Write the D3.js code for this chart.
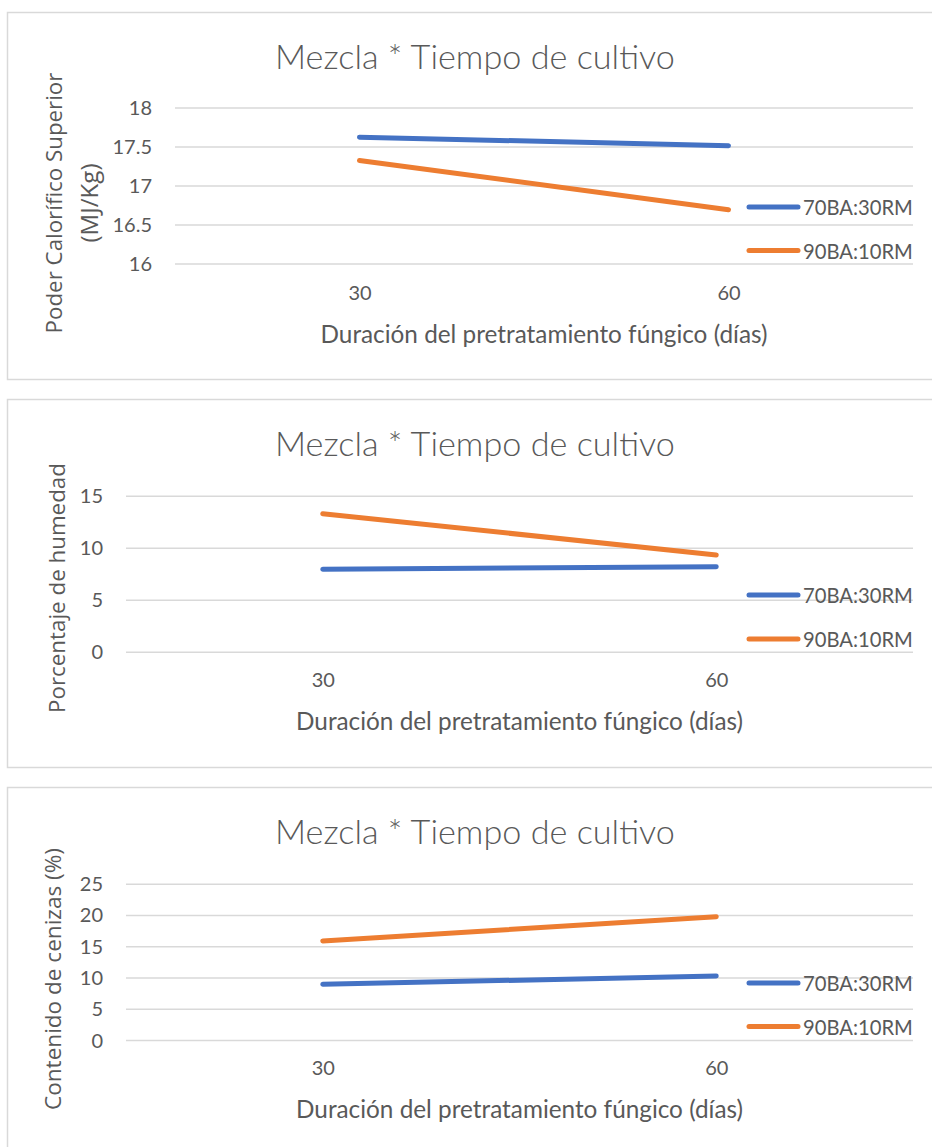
<!DOCTYPE html>
<html>
<head>
<meta charset="utf-8">
<script src="https://cdn.jsdelivr.net/npm/d3@7"></script>
<style>
  html, body { margin: 0; padding: 0; background: #fff; }
  svg { display: block; }
</style>
</head>
<body>
<svg id="chart" width="932" height="1147"></svg>
<script>
// ---------- data ----------
const categories = ["30", "60"];
const seriesNames = ["70BA:30RM", "90BA:10RM"];
const chartTitle = "Mezcla * Tiempo de cultivo";
const xAxisTitle = "Duración del pretratamiento fúngico (días)";

const pcsBlue = [17.62, 17.51];
const pcsOrange = [17.32, 16.69];
const pcsTicks = [16, 16.5, 17, 17.5, 18];
const pcsYTitle = ["Poder Calorífico Superior", "(MJ/Kg)"];

const humBlue = [7.92, 8.17];
const humOrange = [13.27, 9.30];
const humTicks = [0, 5, 10, 15];
const humYTitle = ["Porcentaje de humedad"];

const cenBlue = [8.91, 10.24];
const cenOrange = [15.84, 19.73];
const cenTicks = [0, 5, 10, 15, 20, 25];
const cenYTitle = ["Contenido de cenizas (%)"];

const colors = ["#4472C4", "#ED7D31"];

// ---------- layout ----------
const panels = [
  { top: 12, height: 367, left: 175, yDomain: [16, 18], plotTop: 107.5, plotBottom: 263.5,
    ticks: pcsTicks, series: [pcsBlue, pcsOrange], yTitle: pcsYTitle,
    yTitleX: [53, 88], yTitleY: 203, yTitleW: [261, 79], legendY: [207, 250.5] },
  { top: 399, height: 368, left: 126, yDomain: [0, 15], plotTop: 495.7, plotBottom: 651.7,
    ticks: humTicks, series: [humBlue, humOrange], yTitle: humYTitle,
    yTitleX: [56], yTitleY: 588, yTitleW: [250], legendY: [595, 639] },
  { top: 787, height: 380, left: 126, yDomain: [0, 25], plotTop: 883.7, plotBottom: 1040,
    ticks: cenTicks, series: [cenBlue, cenOrange], yTitle: cenYTitle,
    yTitleX: [52], yTitleY: 979, yTitleW: [262], legendY: [983, 1026.5] }
];
const plotRight = 913;
const textColor = "#595959";
const gridColor = "#d9d9d9";
const calibriLike = "Lato, 'Open Sans', sans-serif";
const yTitleFont = "'Open Sans', 'DejaVu Sans', sans-serif";

const svg = d3.select("#chart");

function fit(sel, target) {
  const node = sel.node();
  const fs = parseFloat(sel.attr("font-size"));
  const w = node.getComputedTextLength();
  if (w > 0) sel.attr("font-size", (fs * target / w).toFixed(2));
  return sel;
}

panels.forEach(p => {
  const g = svg.append("g");

  // border
  g.append("rect")
    .attr("x", 7.5).attr("y", p.top + 0.5)
    .attr("width", 940).attr("height", p.height)
    .attr("fill", "#fff").attr("stroke", gridColor).attr("stroke-width", 1.5);

  const x = d3.scalePoint().domain(categories).range([p.left, plotRight]).padding(0.5);
  const y = d3.scaleLinear().domain(p.yDomain).range([p.plotBottom, p.plotTop]);

  // title
  const t = g.append("text")
    .attr("x", 475).attr("y", p.top + 43)
    .attr("text-anchor", "middle").attr("dominant-baseline", "central")
    .attr("font-family", calibriLike).attr("font-weight", 300)
    .attr("font-size", 30).attr("fill", textColor)
    .text(chartTitle);
  fit(t, 400);

  // gridlines via axis
  const yAxis = d3.axisLeft(y).tickValues(p.ticks).tickSize(-(plotRight - p.left)).tickPadding(23)
    .tickFormat(d => String(d));
  const ya = g.append("g").attr("transform", `translate(${p.left},0)`).call(yAxis);
  ya.select(".domain").remove();
  ya.selectAll(".tick line").attr("stroke", gridColor).attr("stroke-width", 1.5);
  ya.selectAll(".tick text")
    .attr("font-family", calibriLike).attr("font-size", 20).attr("fill", textColor)
    .attr("dy", "0.35em");

  // x axis labels
  const xAxis = d3.axisBottom(x).tickSize(0).tickPadding(0);
  const xa = g.append("g").attr("transform", `translate(0,${p.top + 281})`).call(xAxis);
  xa.select(".domain").remove();
  xa.selectAll(".tick text")
    .attr("font-family", calibriLike).attr("font-size", 20).attr("fill", textColor)
    .attr("dy", "0.35em").attr("y", 0);

  // x title
  const xt = g.append("text")
    .attr("x", (p.left + plotRight) / 2).attr("y", p.top + 321)
    .attr("text-anchor", "middle").attr("dominant-baseline", "central")
    .attr("font-family", calibriLike).attr("font-size", 20).attr("fill", textColor)
    .text(xAxisTitle);
  fit(xt, 447);

  // y title
  p.yTitle.forEach((line, i) => {
    const yt = g.append("text")
      .attr("transform", `translate(${p.yTitleX[i]},${p.yTitleY}) rotate(-90)`)
      .attr("text-anchor", "middle").attr("dominant-baseline", "central")
      .attr("font-family", yTitleFont).attr("font-size", 18).attr("fill", textColor)
      .text(line);
    fit(yt, p.yTitleW[i]);
  });

  // lines
  const lineGen = d3.line().x((d, i) => x(categories[i])).y(d => y(d));
  p.series.forEach((vals, si) => {
    g.append("path")
      .datum(vals)
      .attr("d", lineGen)
      .attr("fill", "none")
      .attr("stroke", colors[si])
      .attr("stroke-width", 5)
      .attr("stroke-linecap", "round");
  });

  // legend
  seriesNames.forEach((name, si) => {
    const ly = p.legendY[si];
    g.append("line")
      .attr("x1", 749).attr("x2", 798).attr("y1", ly).attr("y2", ly)
      .attr("stroke", colors[si]).attr("stroke-width", 5).attr("stroke-linecap", "round");
    const lt = g.append("text")
      .attr("x", 803).attr("y", ly)
      .attr("dominant-baseline", "central")
      .attr("font-family", calibriLike).attr("font-size", 18).attr("fill", textColor)
      .text(name);
    fit(lt, 110);
  });
});
</script>
</body>
</html>
